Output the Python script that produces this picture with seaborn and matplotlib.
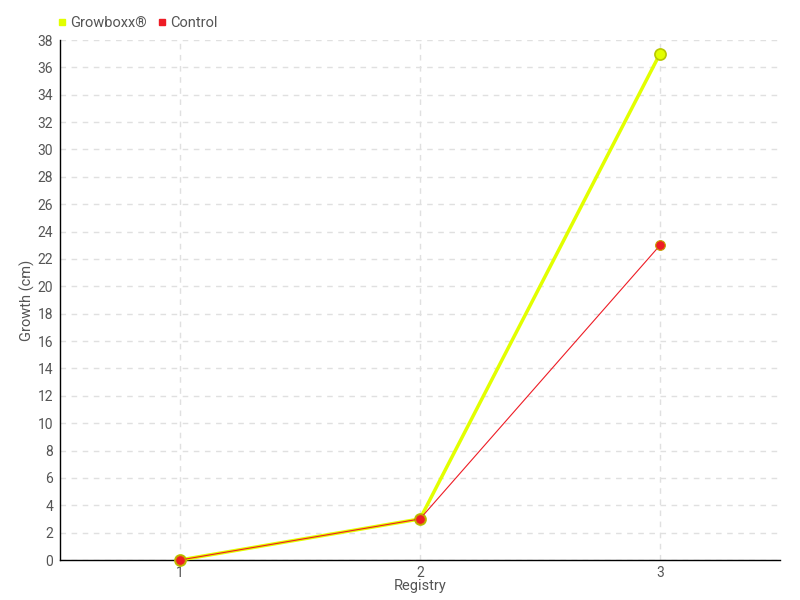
import matplotlib
matplotlib.use("Agg")
import matplotlib.pyplot as plt
import seaborn as sns
import pandas as pd
from matplotlib.lines import Line2D

# data
registry = [1, 2, 3]
growboxx = [0, 3, 37]
control = [0, 3, 23]
y_ticks = list(range(0, 39, 2))

sns.set_style("white")
plt.rcParams["font.family"] = ["Roboto", "DejaVu Sans"]

df = pd.DataFrame({
    "Registry": registry * 2,
    "Growth": growboxx + control,
    "Series": ["Growboxx®"] * 3 + ["Control"] * 3,
})

fig = plt.figure(figsize=(8, 6), dpi=100)
ax = fig.add_axes([60 / 800, 40 / 600, 720 / 800, 520 / 600])

yellow = "#e2ff00"
red = "#ee1c25"

sns.lineplot(data=df[df.Series == "Growboxx®"], x="Registry", y="Growth", ax=ax,
             color=yellow, linewidth=2.5, marker="o", markersize=8,
             markeredgecolor="#b8c800", markeredgewidth=1.2, zorder=3, clip_on=False)
sns.lineplot(data=df[df.Series == "Control"], x="Registry", y="Growth", ax=ax,
             color=red, linewidth=0.8, marker="o", markersize=7,
             markeredgecolor="#c8a000", markeredgewidth=0.8, zorder=4, clip_on=False)

ax.set_xlim(0.5, 3.5)
ax.set_ylim(0, 38)
ax.set_xticks(registry)
ax.set_yticks(y_ticks)
ax.grid(True, color="#e0e0e0", linestyle=(0, (4, 4)), linewidth=1)
ax.set_axisbelow(True)

for s in ["top", "right"]:
    ax.spines[s].set_visible(False)
for s in ["left", "bottom"]:
    ax.spines[s].set_color("black")
    ax.spines[s].set_linewidth(1)
    ax.spines[s].set_zorder(2)

ax.tick_params(axis="both", direction="out", length=4, width=1, colors="black",
               labelcolor="#555555", labelsize=10, pad=1)
ax.tick_params(axis="x", pad=0)
ax.set_xlabel("Registry", color="#555555", fontsize=10.5)
ax.set_ylabel("Growth (cm)", color="#555555", fontsize=10.5)
ax.xaxis.set_label_coords(0.5, -0.036)
ax.yaxis.set_label_coords(-0.035, 0.5)

handles = [
    Line2D([], [], marker="s", linestyle="", color=yellow, markersize=5),
    Line2D([], [], marker="s", linestyle="", color=red, markersize=5),
]
fig.legend(handles, ["Growboxx®", "Control"], loc="upper left",
           bbox_to_anchor=(42 / 800, 1 - 3 / 600), ncol=2, frameon=False,
           handletextpad=0.0, columnspacing=0.6, handlelength=1.0,
           labelcolor="#555555", fontsize=10.5)

fig.savefig("out.png", dpi=100)
